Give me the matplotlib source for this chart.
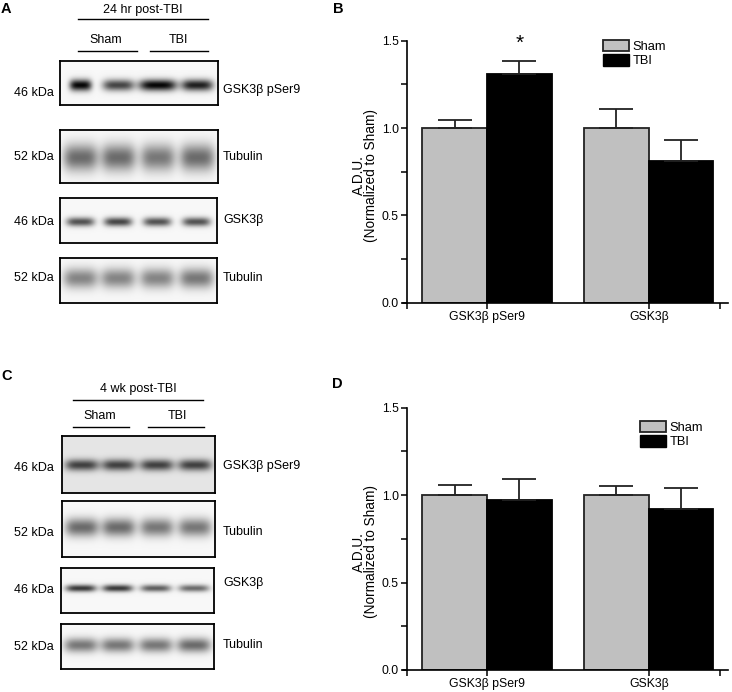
import numpy as np
import matplotlib
matplotlib.use("Agg")
import matplotlib.pyplot as plt
from matplotlib.lines import Line2D
from matplotlib.patches import Patch
from matplotlib.ticker import MultipleLocator

plt.rcParams['font.family'] = ['Liberation Sans', 'DejaVu Sans']

# bar chart data (mean, upper error)
groups = ['GSK3β pSer9', 'GSK3β']
b_sham = [1.0, 1.0]
b_sham_err = [0.046, 0.109]
b_tbi = [1.309, 0.809]
b_tbi_err = [0.074, 0.122]
d_sham = [1.0, 1.0]
d_sham_err = [0.06, 0.052]
d_tbi = [0.972, 0.919]
d_tbi_err = [0.12, 0.12]

# blot lanes: centre (fraction of box), band intensity, width, height, y centre
lanes = [0.13, 0.37, 0.62, 0.87]
a_pser9_int = [0.95, 0.7, 0.95, 0.85]
a_pser9_w = [0.07, 0.1, 0.12, 0.1]
a_tub1_int = [0.55, 0.55, 0.5, 0.55]
a_gsk_int = [0.65, 0.7, 0.65, 0.65]
a_tub2_int = [0.45, 0.45, 0.45, 0.5]
c_pser9_int = [0.65, 0.65, 0.65, 0.65]
c_tub1_int = [0.55, 0.55, 0.5, 0.5]
c_gsk_int = [0.75, 0.75, 0.6, 0.55]
c_tub2_int = [0.5, 0.5, 0.5, 0.55]

W, H = 732, 692
fig = plt.figure(figsize=(W / 100, H / 100), dpi=100)


def box_axes(x0, y0, x1, y1):
    return fig.add_axes([x0 / W, 1 - y1 / H, (x1 - x0) / W, (y1 - y0) / H])


def blot(x0, y0, x1, y1, inten, widths, height, yc, bg=0.97):
    ax = box_axes(x0, y0, x1, y1)
    nx, ny = int((x1 - x0) * 3), int((y1 - y0) * 3)
    xx = np.linspace(0, 1, nx)
    yy = np.linspace(0, 1, ny)
    img = np.full((ny, nx), bg)
    for cx, a, w in zip(lanes, inten, widths):
        px = np.exp(-np.abs((xx - cx) / w) ** 4)
        py = np.exp(-((yy - yc) / height) ** 2)
        img -= a * np.outer(py, px)
    ax.imshow(np.clip(img, 0, 1), cmap='gray', vmin=0, vmax=1, aspect='auto',
              extent=(0, 1, 1, 0), interpolation='bilinear')
    ax.set_xticks([])
    ax.set_yticks([])
    for s in ax.spines.values():
        s.set_linewidth(1.3)
    return ax


# overlay in pixel coordinates for labels
ov = fig.add_axes([0, 0, 1, 1])
ov.set_xlim(0, W)
ov.set_ylim(H, 0)
ov.axis('off')

fs = 9
for letter, x, y in [('A', 6, 9), ('B', 338, 9), ('C', 7, 376), ('D', 337, 384)]:
    ov.text(x, y, letter, fontsize=10.5, fontweight='bold', ha='center', va='center')


def header(title, ty, xa, xb, ly, sham_x, tbi_x, sy, sly, sa, sb, ta, tb):
    ov.text((xa + xb) / 2, ty, title, fontsize=fs, ha='center', va='center')
    ov.add_line(Line2D([xa, xb], [ly, ly], color='black', lw=1))
    ov.text(sham_x, sy, 'Sham', fontsize=fs, ha='center', va='center')
    ov.text(tbi_x, sy, 'TBI', fontsize=fs, ha='center', va='center')
    ov.add_line(Line2D([sa, sb], [sly, sly], color='black', lw=1))
    ov.add_line(Line2D([ta, tb], [sly, sly], color='black', lw=1))


header('24 hr post-TBI', 10, 78, 208, 19, 106, 178, 40, 51, 78, 137, 150, 208)
header('4 wk post-TBI', 389, 73, 203, 400, 100, 177, 416, 427, 73, 129, 148, 204)

left_labels = [('46 kDa', 93), ('52 kDa', 157), ('46 kDa', 222), ('52 kDa', 278),
               ('46 kDa', 468), ('52 kDa', 533), ('46 kDa', 590), ('52 kDa', 647)]
for t, y in left_labels:
    ov.text(54, y, t, fontsize=fs, ha='right', va='center')
right_labels = [('GSK3β pSer9', 90), ('Tubulin', 157), ('GSK3β', 220), ('Tubulin', 278),
                ('GSK3β pSer9', 466), ('Tubulin', 532), ('GSK3β', 583), ('Tubulin', 645)]
for t, y in right_labels:
    ov.text(223, y, t, fontsize=fs, ha='left', va='center')

# panel A blots
blot(60, 61, 218, 105, a_pser9_int, a_pser9_w, 0.13, 0.55)
blot(60, 130, 218, 183, a_tub1_int, [0.11] * 4, 0.25, 0.52)
blot(60, 198, 217, 243, a_gsk_int, [0.09] * 4, 0.1, 0.53)
blot(60, 258, 217, 303, a_tub2_int, [0.11] * 4, 0.22, 0.45)
# panel C blots
blot(62, 436, 215, 493, c_pser9_int, [0.11] * 4, 0.1, 0.51, bg=0.9)
blot(62, 501, 215, 557, c_tub1_int, [0.11] * 4, 0.16, 0.48)
blot(61, 568, 214, 613, c_gsk_int, [0.1] * 4, 0.08, 0.45)
blot(61, 624, 214, 669, c_tub2_int, [0.11] * 4, 0.16, 0.47)


def bar_panel(y_top, y_bot, sham, sham_err, tbi, tbi_err, lab_y, leg_anchor, star=False):
    ax = box_axes(403, y_top, 728, y_bot)
    x = np.arange(len(groups))
    w = 0.4
    ax.bar(x - w / 2, sham, w, color='#c0c0c0', edgecolor='#222222', lw=1.3,
           yerr=[[0] * len(sham), sham_err], capsize=12,
           error_kw=dict(lw=1.3, capthick=1.3, ecolor='#222222'), label='Sham')
    ax.bar(x + w / 2, tbi, w, color='black', edgecolor='black', lw=1.3,
           yerr=[[0] * len(tbi), tbi_err], capsize=12,
           error_kw=dict(lw=1.3, capthick=1.3, ecolor='#222222'), label='TBI')
    ax.set_xlim(-0.52, 1.49)
    ax.set_ylim(0, 1.5)
    ax.spines['top'].set_visible(False)
    ax.spines['right'].set_visible(False)
    ax.spines['left'].set_position(('data', -0.495))
    ax.spines['left'].set_linewidth(1.2)
    ax.spines['bottom'].set_linewidth(1.2)
    ax.set_xticks([-0.495, 0, 1, 1.44])
    ax.set_xticklabels(['', groups[0], groups[1], ''])
    ax.yaxis.set_major_locator(MultipleLocator(0.5))
    ax.yaxis.set_minor_locator(MultipleLocator(0.25))
    ax.yaxis.set_major_formatter(matplotlib.ticker.FormatStrFormatter('%.1f'))
    ax.tick_params(axis='both', which='both', direction='out', length=4, width=1.1,
                   labelsize=8.8, pad=2)
    ax.patch.set_alpha(0)
    if star:
        ax.text(0 + w / 2, tbi[0] + tbi_err[0] + 0.1, '*', fontsize=15,
                ha='center', va='center')
    ov.text(365, lab_y, 'A.D.U.\n(Normalized to Sham)', fontsize=9.8, rotation=90,
            ha='center', va='center', linespacing=0.85)
    ax.legend(handles=[Patch(facecolor='#c0c0c0', edgecolor='#222222', lw=1.3, label='Sham'),
                       Patch(facecolor='black', edgecolor='black', label='TBI')],
              loc='upper left', bbox_to_anchor=leg_anchor, frameon=False, fontsize=9.3,
              handlelength=2.0, handleheight=0.95, labelspacing=0.1, handletextpad=0.25,
              borderaxespad=0)
    return ax


bar_panel(40.7, 302.7, b_sham, b_sham_err, b_tbi, b_tbi_err, 175,
          ((598 - 403) / 325, 1 - (35 - 40.7) / 262), star=True)
bar_panel(407.7, 670, d_sham, d_sham_err, d_tbi, d_tbi_err, 552,
          ((635 - 403) / 325, 1 - (416 - 407.7) / 262.3))

fig.savefig('out.png', dpi=100)
